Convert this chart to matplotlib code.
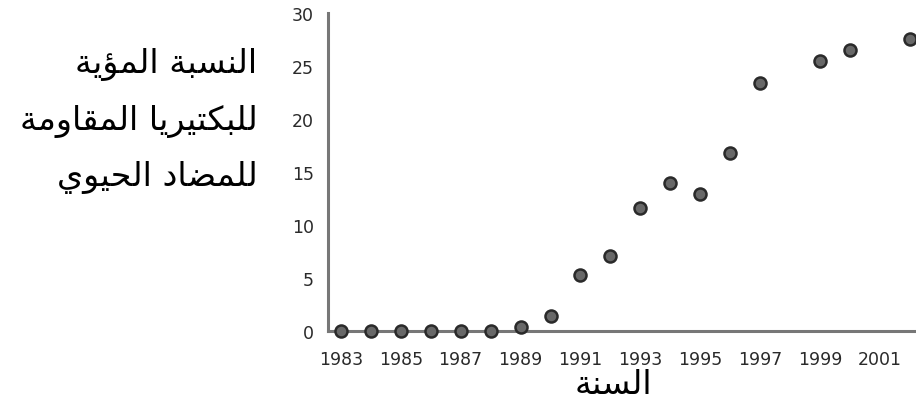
import matplotlib
matplotlib.use("Agg")
import matplotlib.pyplot as plt

# البيانات
years = [1983, 1984, 1985, 1986, 1987, 1988, 1989, 1990, 1991, 1992,
         1993, 1994, 1995, 1996, 1997, 1999, 2000, 2002]
percent = [0, 0, 0, 0, 0, 0, 0.4, 1.4, 5.3, 7.1,
           11.6, 14.0, 12.9, 16.8, 23.4, 25.5, 26.5, 27.6]
xticks = list(range(1983, 2002, 2))
yticks = [0, 5, 10, 15, 20, 25, 30]
ylabel_lines = ["النسبة المؤية", "للبكتيريا المقاومة", "للمضاد الحيوي"]
xlabel_text = "السنة"

# أشكال الحروف العربية (معزول، نهائي، ابتدائي، وسطي)
forms = {
    'ا': (0xFE8D, 0xFE8E, None, None),
    'ب': (0xFE8F, 0xFE90, 0xFE91, 0xFE92),
    'ة': (0xFE93, 0xFE94, None, None),
    'ت': (0xFE95, 0xFE96, 0xFE97, 0xFE98),
    'ح': (0xFEA1, 0xFEA2, 0xFEA3, 0xFEA4),
    'د': (0xFEA9, 0xFEAA, None, None),
    'ر': (0xFEAD, 0xFEAE, None, None),
    'س': (0xFEB1, 0xFEB2, 0xFEB3, 0xFEB4),
    'ض': (0xFEBD, 0xFEBE, 0xFEBF, 0xFEC0),
    'ق': (0xFED5, 0xFED6, 0xFED7, 0xFED8),
    'ك': (0xFED9, 0xFEDA, 0xFEDB, 0xFEDC),
    'ل': (0xFEDD, 0xFEDE, 0xFEDF, 0xFEE0),
    'م': (0xFEE1, 0xFEE2, 0xFEE3, 0xFEE4),
    'ن': (0xFEE5, 0xFEE6, 0xFEE7, 0xFEE8),
    'و': (0xFEED, 0xFEEE, None, None),
    'ي': (0xFEF1, 0xFEF2, 0xFEF3, 0xFEF4),
    'ؤ': (0xFE85, 0xFE86, None, None),
}


def shape(text):
    out = []
    for i, c in enumerate(text):
        if c not in forms:
            out.append(c)
            continue
        prev = text[i - 1] if i > 0 else None
        nxt = text[i + 1] if i + 1 < len(text) else None
        join_prev = prev in forms and forms[prev][2] is not None
        join_next = forms[c][2] is not None and nxt in forms
        iso, fin, ini, med = forms[c]
        if join_prev and join_next:
            g = med
        elif join_prev:
            g = fin
        elif join_next:
            g = ini
        else:
            g = iso
        out.append(chr(g))
    return ''.join(out)[::-1]


fig = plt.figure(figsize=(9.16, 4.14), dpi=100)
ax = fig.add_axes([0.358, 0.198, 0.642, 0.768])

ax.scatter(years, percent, s=75, color='#686868', edgecolor='#2a2a2a',
           linewidth=1.8, zorder=3, clip_on=False)

ax.set_xlim(1982.57, 2002.2)
ax.set_ylim(0, 30)
ax.set_xticks(xticks)
ax.set_yticks(yticks)
ax.tick_params(length=0, labelsize=12.5, colors='#2a2a2a')
ax.tick_params(axis='x', pad=14)
ax.tick_params(axis='y', pad=10)

for s in ['top', 'right']:
    ax.spines[s].set_visible(False)
for s in ['left', 'bottom']:
    ax.spines[s].set_color('#777777')
    ax.spines[s].set_linewidth(2.2)

for i, line in enumerate(ylabel_lines):
    fig.text(0.281, 0.843 - i * 0.136, shape(line), ha='right', va='center',
             fontsize=24, family='DejaVu Sans')

fig.text(0.67, 0.072, shape(xlabel_text), ha='center', va='center',
         fontsize=24, family='DejaVu Sans')

fig.savefig('out.png', dpi=100)
